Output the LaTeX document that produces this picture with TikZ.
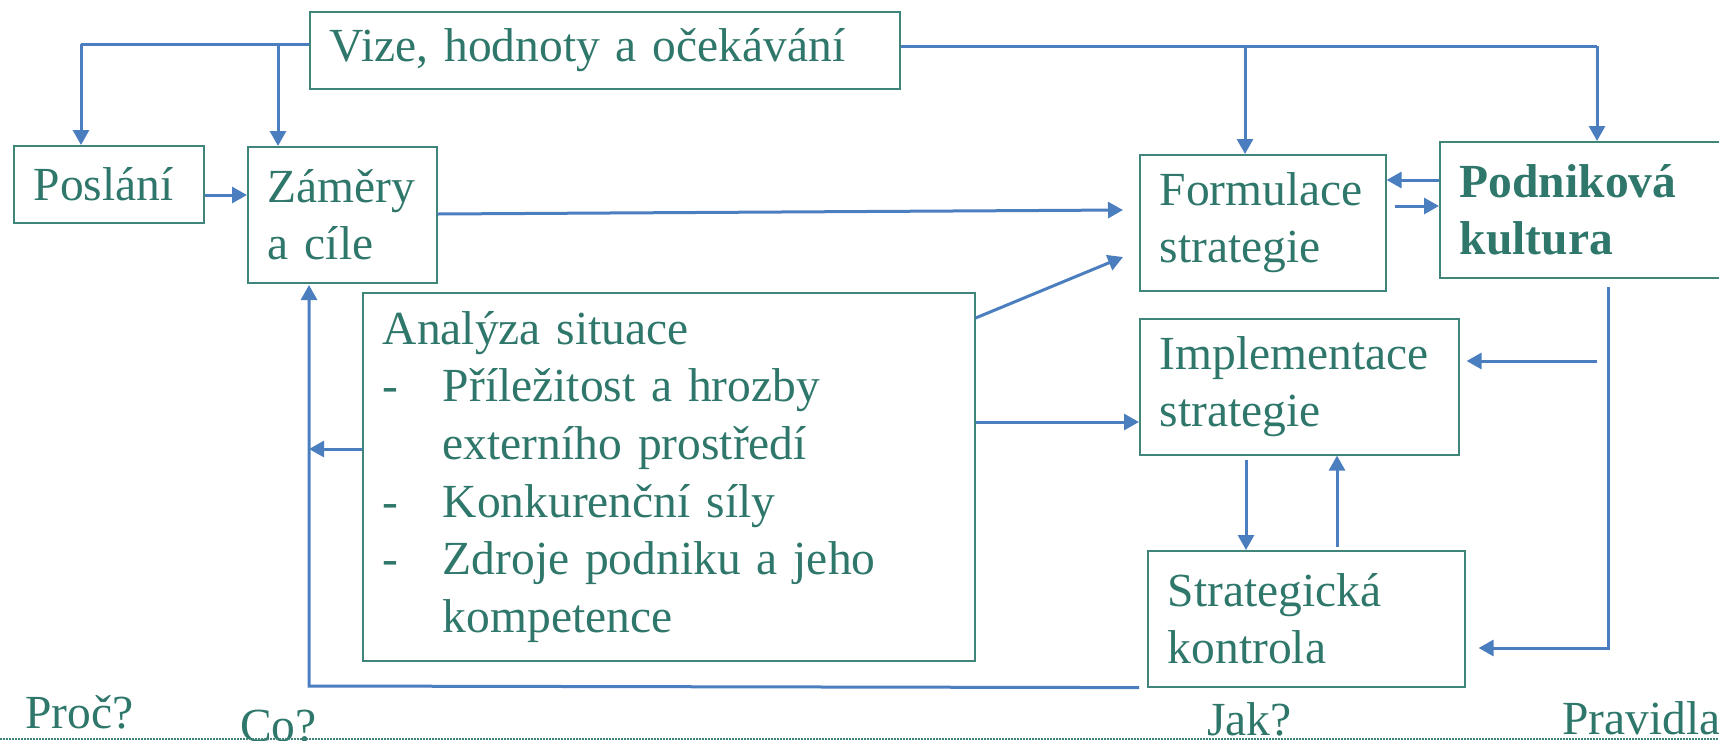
\documentclass[tikz,border=0pt]{standalone}
\usepackage{fontspec}
\setmainfont{Liberation Serif}
\usetikzlibrary{arrows.meta}
\definecolor{txt}{HTML}{2E776A}
\definecolor{brd}{HTML}{3F857A}
\definecolor{arr}{HTML}{4A7EBF}
\tikzset{
  box/.style={draw=brd, line width=1.6pt, anchor=north west, inner xsep=20pt, inner ysep=0pt,
    align=left, text=txt, font=\fontsize{47.5}{57.6}\selectfont},
  conn/.style={draw=arr, line width=3pt},
  arw/.style={conn, -{Triangle[width=16pt,length=15pt]}},
  lbl/.style={text=txt, font=\fontsize{47.5}{57.6}\selectfont, anchor=base west, inner sep=0pt}
}
\begin{document}
\begin{tikzpicture}[x=1pt,y=-1pt]
\useasboundingbox (0,0) rectangle (1719,740);
% boxes
\node[box, minimum width=590pt, minimum height=77pt, text width=550pt] (vize) at (309,11) {Vize, hodnoty a očekávání};
\node[box, minimum width=190pt, minimum height=77pt, text width=150pt] (poslani) at (13,145) {Poslání};
\node[box, minimum width=189pt, minimum height=136pt, text width=149pt] (zamery) at (247,146) {Záměry\\a cíle};
\node[box, minimum width=612pt, minimum height=368pt, text width=572pt] (analyza) at (362,292)
  {Analýza situace\\
   \makebox[60pt][l]{-}Příležitost a hrozby\\
   \hspace*{60pt}externího prostředí\\
   \makebox[60pt][l]{-}Konkurenční síly\\
   \makebox[60pt][l]{-}Zdroje podniku a jeho\\
   \hspace*{60pt}kompetence};
\node[box, minimum width=246pt, minimum height=136pt, text width=206pt] (formulace) at (1139,154) {Formulace\\strategie};
\node[box, minimum width=282pt, minimum height=136pt, text width=242pt, font=\fontsize{47.5}{57.6}\selectfont\bfseries] (podnik) at (1439,141) {Podniková\\kultura};
\node[box, minimum width=319pt, minimum height=136pt, text width=279pt] (impl) at (1139,318) {Implementace\\strategie};
\node[box, minimum width=317pt, minimum height=136pt, text width=277pt] (strat) at (1147,550) {Strategická\\kontrola};
% helper coordinates
\coordinate (tl) at (81,44);
\coordinate (tz) at (278,44);
\coordinate (tf) at (1245,46);
\coordinate (tr) at (1597,46);
\coordinate (rd) at (1608,287);
\coordinate (rb) at (1608,648);
\coordinate (ri) at (1597,361);
\coordinate (lb) at (309,686);
% top connectors
\draw[conn] (vize.west |- tl) -- (tl);
\draw[arw] (tl) -- (tl |- poslani.north);
\draw[arw] (tz) -- (tz |- zamery.north);
\draw[conn] (vize.east |- tf) -- (tr);
\draw[arw] (tf) -- (tf |- formulace.north);
\draw[arw] (tr) -- (tr |- podnik.north);
% middle connectors
\draw[arw] (poslani.east |- 0,195) -- (zamery.west |- 0,195);
\draw[arw] (zamery.east |- 0,214) -- ([xshift=-16pt]formulace.west |- 0,210);
\draw[arw] (analyza.east |- 0,318) -- ([xshift=-16pt]formulace.west |- 0,257);
\draw[arw] (analyza.east |- 0,422) -- (impl.west |- 0,422);
\draw[arw] (podnik.west |- 0,180) -- (formulace.east |- 0,180);
\draw[arw] ([xshift=8pt]formulace.east |- 0,206) -- (podnik.west |- 0,206);
\draw[arw] (rd) -- (rb) -- ([xshift=13pt]strat.east |- rb);
\draw[arw] (ri) -- ([xshift=7pt]impl.east |- ri);
\draw[arw] (impl.south -| 1246,0) ++(0,4) -- (strat.north -| 1246,0);
\draw[arw] (strat.north -| 1337,0) ++(0,-3) -- (impl.south -| 1337,0);
\draw[arw] (analyza.west |- 0,449) -- (309,449);
\draw[arw] ([xshift=-8pt]strat.south west) -- (lb) -- (lb |- 0,285);
% labels
\node[lbl] (proc) at (25,728) {Proč?};
\node[lbl] (co) at (240,741) {Co?};
\node[lbl] (jak) at (1207,735) {Jak?};
\node[lbl] (prav) at (1562,734) {Pravidla};
% bottom dotted rule
\draw[draw=brd, line width=1.5pt, dash pattern=on 1.5pt off 1.5pt] (0,739) -- (1719,739);
\end{tikzpicture}
\end{document}
